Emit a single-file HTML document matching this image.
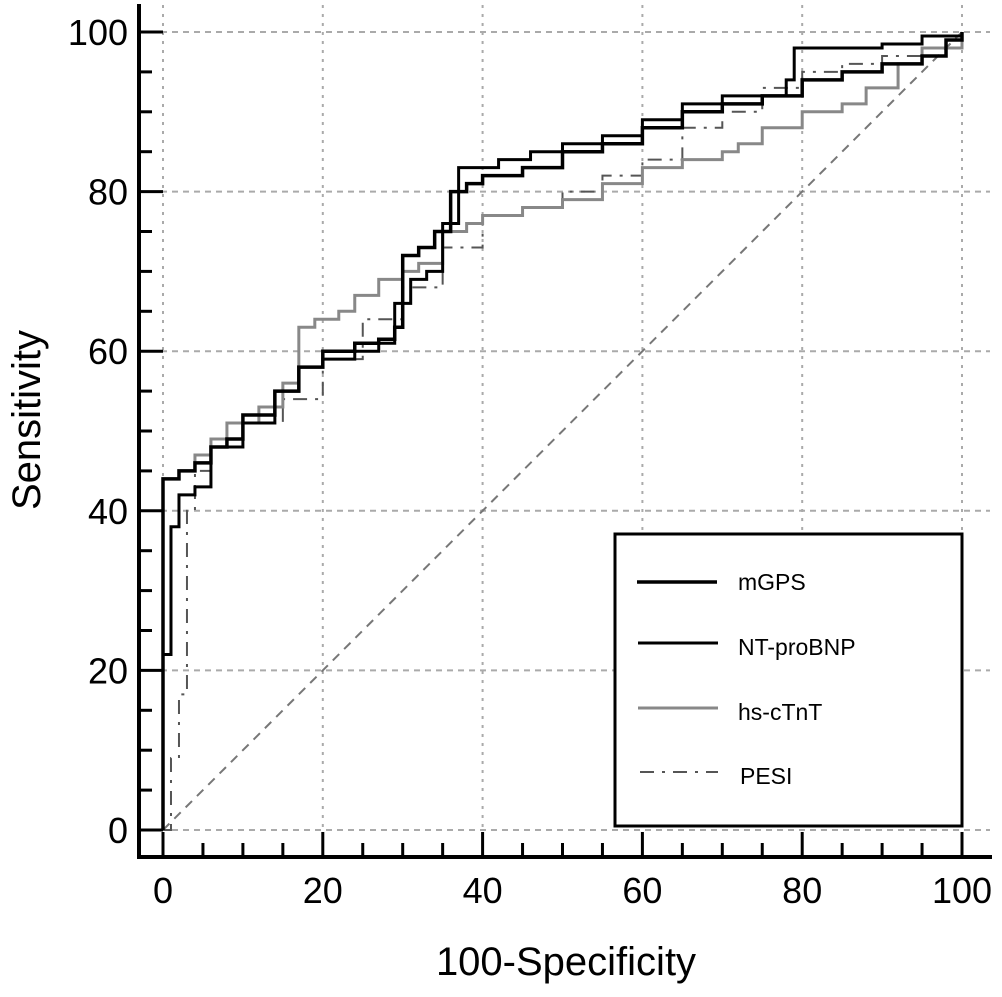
<!DOCTYPE html>
<html><head><meta charset="utf-8"><style>
body{margin:0;background:#fff}
svg{display:block;font-family:"Liberation Sans",Arial,sans-serif}
</style></head><body>
<svg id="chart" width="1002" height="997" viewBox="0 0 1002 997">
<g id="grid"></g>
<line x1="163" y1="830" x2="962" y2="32" stroke="#777" stroke-width="2" stroke-dasharray="9,7"/>
<g id="series"></g>
<g id="axes"></g>
<text x="566" y="975" font-size="40" text-anchor="middle">100-Specificity</text>
<text transform="translate(40,420) rotate(-90)" font-size="40" text-anchor="middle">Sensitivity</text>
<g>
<rect x="615" y="534" width="347" height="292" fill="#fff" stroke="#000" stroke-width="3"/>
<g><line x1="637" y1="582" x2="717" y2="582" stroke="#000" stroke-width="3.5"/><text x="738" y="590" font-size="23">mGPS</text></g>
<g><line x1="638" y1="643" x2="718" y2="643" stroke="#000" stroke-width="3"/><text x="738" y="655" font-size="23">NT-proBNP</text></g>
<g><line x1="638" y1="708" x2="718" y2="708" stroke="#888" stroke-width="3"/><text x="738" y="720" font-size="23">hs-cTnT</text></g>
<g><line x1="640" y1="772" x2="718" y2="772" stroke="#555" stroke-width="2" stroke-dasharray="14,8,3,8"/><text x="740" y="784" font-size="23">PESI</text></g>
</g>
</svg>
<script>
const xTicks=[0,20,40,60,80,100];
const yTicks=[0,20,40,60,80,100];
const mgpsX=[0,0,2,4,6,8,10,14,17,20,24,27,29,30,32,34,36,38,40,45,50,55,60,65,70,75,80,85,90,95,98,100];
const mgpsY=[0,44,45,46,48,49,52,55,58,60,61,61.5,63,72,73,75,80,81,82,83,85,86,88,90,91,92,94,95,96,97,99,100];
const ntX=[0,0,1,2,4,6,8,10,14,17,20,24,27,29,31,33,35,37,42,46,50,55,60,65,70,78,79,85,90,95,100];
const ntY=[0,22,38,42,43,48,48,51,55,58,59,60,61,66,69,70,76,83,84,85,86,87,89,91,92,94,98,98,98.5,99.5,100];
const hsX=[0,0,2,4,6,8,12,15,17,19,22,24,27,30,32,35,38,40,45,50,55,60,65,70,72,75,80,85,88,92,95,100];
const hsY=[0,44,45,47,49,51,53,56,63,64,65,67,69,70,71,75,76,77,78,79,81,83,84,85,86,88,90,91,93,96,98,100];
const pesiX=[0,1,2,3,3,4,6,10,15,20,25,30,35,40,45,50,55,60,65,70,75,80,85,90,95,100];
const pesiY=[0,9,17,17,40,45,48,51,54,59,64,68,73,77,78,80,82,84,88,90,93,95,96,97,98,100];
const NS="http://www.w3.org/2000/svg";
const sx=v=>163+v*7.99, sy=v=>830-v*7.98;
function mk(tag,attrs,parent){const e=document.createElementNS(NS,tag);for(const k in attrs)e.setAttribute(k,attrs[k]);parent.appendChild(e);return e;}
const grid=document.getElementById('grid'), axes=document.getElementById('axes'), series=document.getElementById('series');
xTicks.forEach(v=>{const l=mk('line',{x1:sx(v),x2:sx(v),y1:5,y2:857,stroke:'#aaa','stroke-width':2,'stroke-dasharray':'3,6'},grid);

});
yTicks.forEach(v=>{const l=mk('line',{x1:139,x2:990,y1:sy(v),y2:sy(v),stroke:'#aaa','stroke-width':2,'stroke-dasharray':'6,5'},grid);

});
mk('line',{x1:139,x2:139,y1:4,y2:859,stroke:'#000','stroke-width':4},axes);
mk('line',{x1:137,x2:992,y1:857,y2:857,stroke:'#000','stroke-width':4},axes);
for(let v=0;v<=100;v+=5){const maj=v%20===0;
mk('line',{x1:sx(v),x2:sx(v),y1:857,y2:maj?832:843,stroke:'#000','stroke-width':3},axes);
mk('line',{x1:139,x2:maj?163:152,y1:sy(v),y2:sy(v),stroke:'#000','stroke-width':3},axes);}
xTicks.forEach(v=>{const t=mk('text',{x:sx(v),y:903,'font-size':36,'text-anchor':'middle'},axes);t.textContent=v;

});
yTicks.forEach(v=>{const t=mk('text',{x:128,y:sy(v)+13,'font-size':36,'text-anchor':'end'},axes);t.textContent=v;

});
function stepPath(xs,ys){let d='M'+sx(xs[0])+','+sy(ys[0]);for(let i=1;i<xs.length;i++){d+=' L'+sx(xs[i])+','+sy(ys[i-1])+' L'+sx(xs[i])+','+sy(ys[i]);}return d;}
function draw(xs,ys,name,stroke,w,dash){const p=mk('path',{d:stepPath(xs,ys),fill:'none',stroke:stroke,'stroke-width':w},series);
if(dash)p.setAttribute('stroke-dasharray',dash);

}
draw(pesiX,pesiY,'pesi-curve','#555',2,'14,8,3,8');
draw(hsX,hsY,'hs-ctnt-curve','#888',3);
draw(ntX,ntY,'nt-probnp-curve','#000',3);
draw(mgpsX,mgpsY,'mgps-curve','#000',3.5);
</script>
</body></html>
